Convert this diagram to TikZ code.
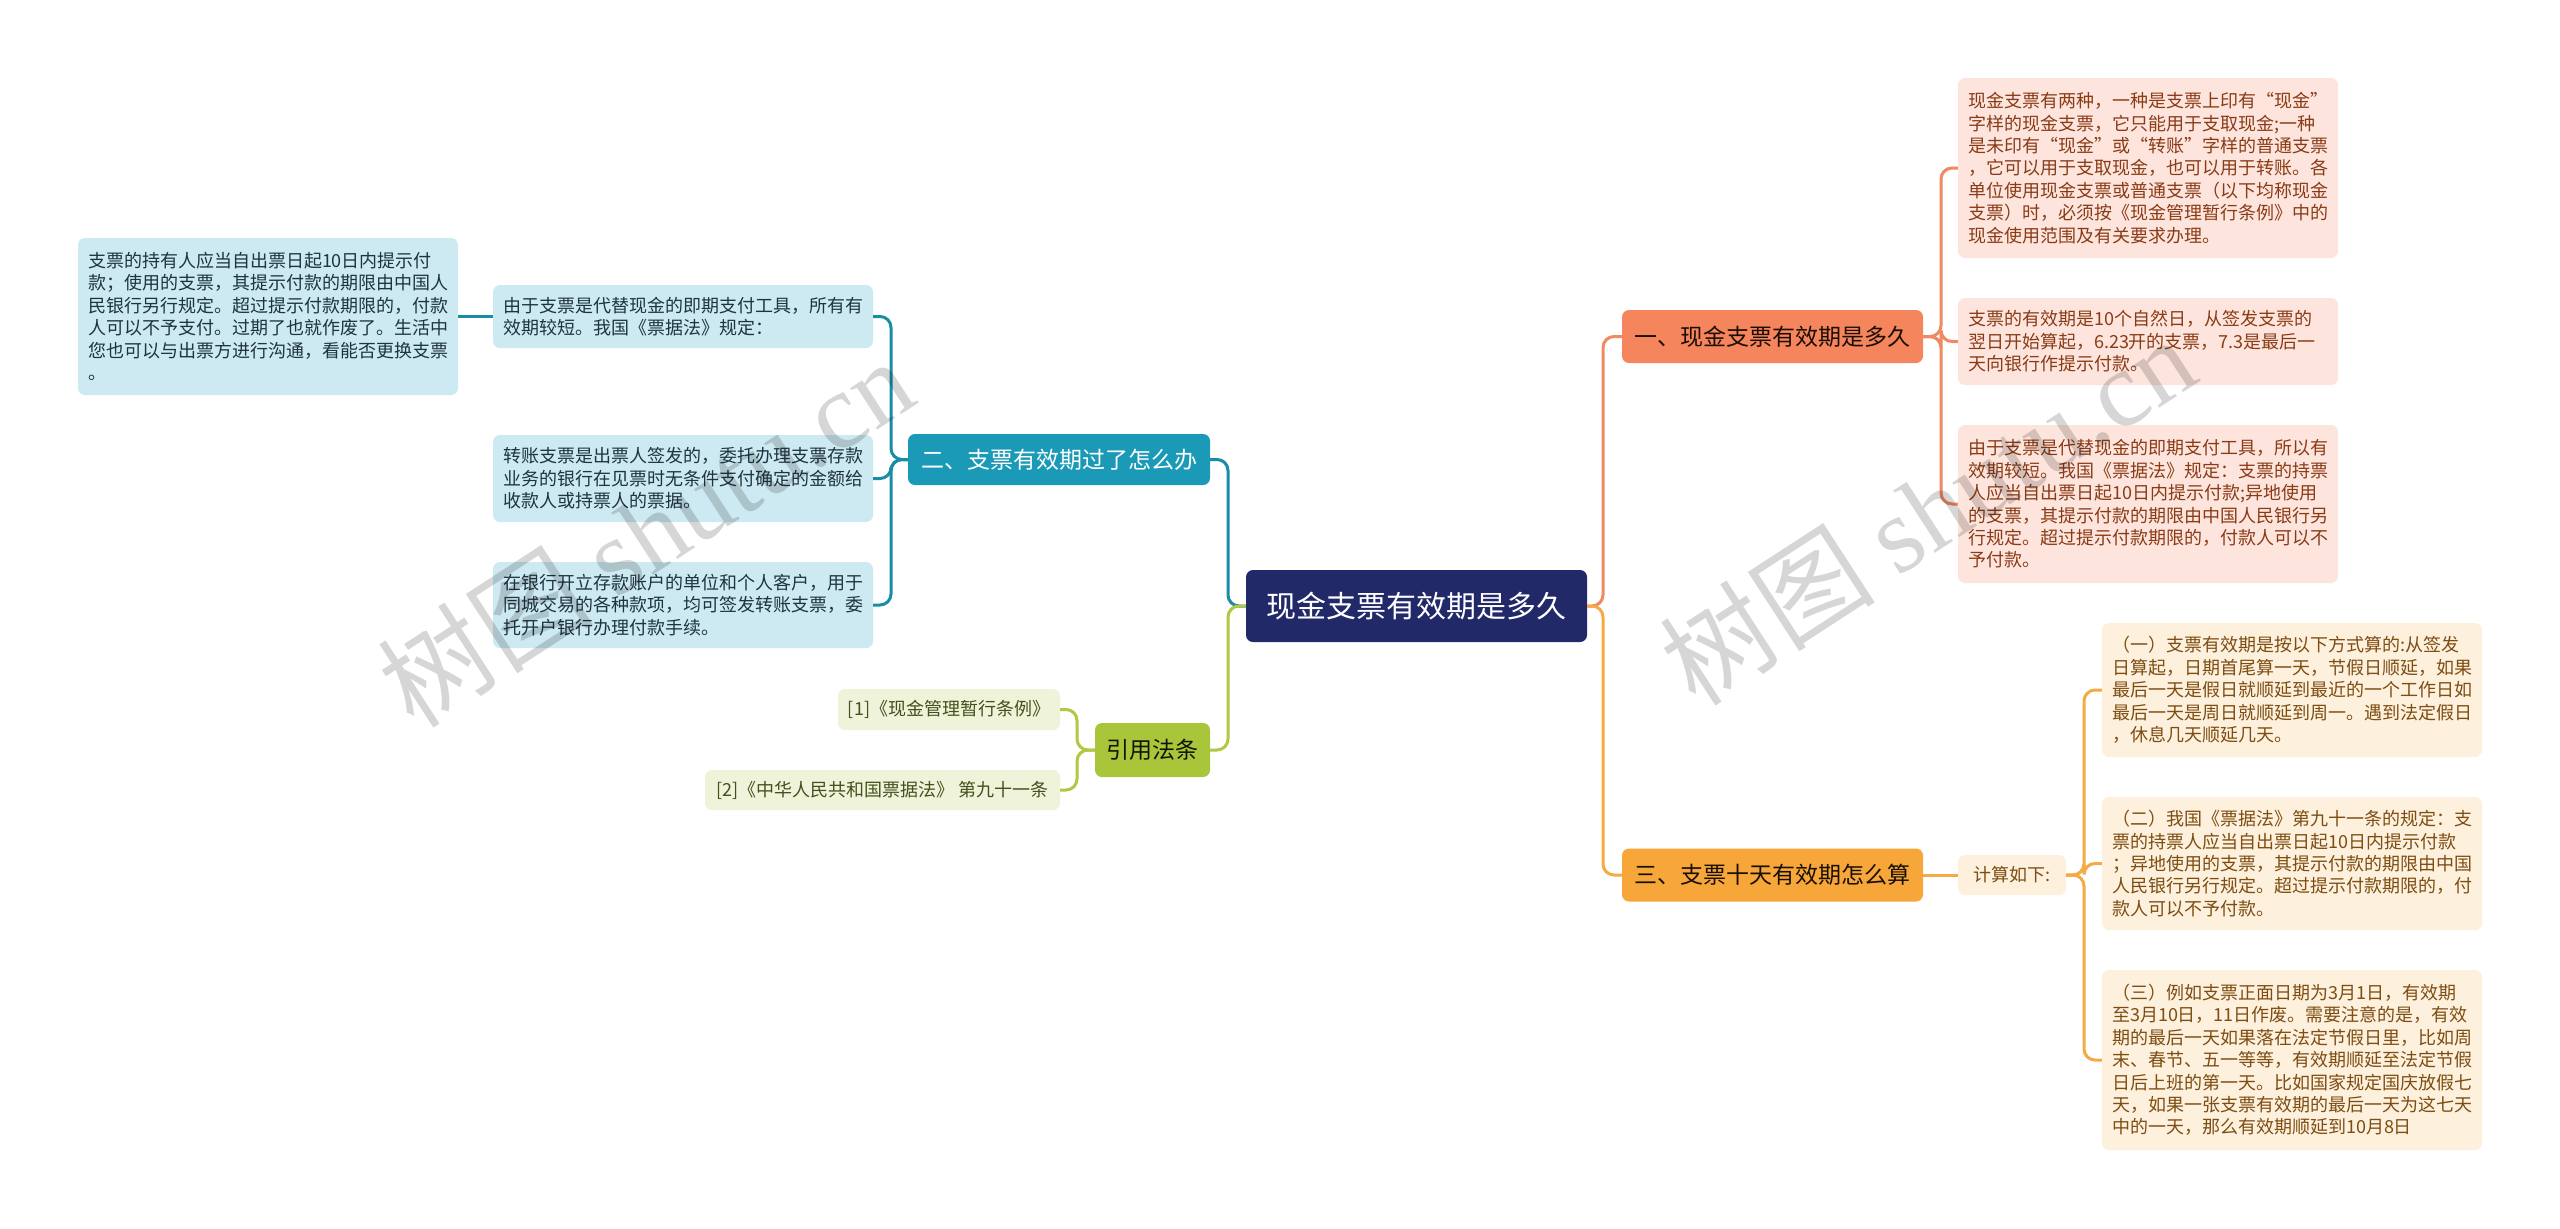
\documentclass[tikz,border=0pt]{standalone}
\usepackage{fontspec}
\setmainfont{Noto Sans CJK SC}
\newfontfamily\wmlatin{Liberation Serif}
\definecolor{cnavy}{HTML}{222968}
\definecolor{corg1}{HTML}{F4855C}
\definecolor{corg1l}{HTML}{EF8A62}
\definecolor{corg1bg}{HTML}{FDE5DD}
\definecolor{corg1tx}{HTML}{8A3B16}
\definecolor{corg3}{HTML}{F7A73A}
\definecolor{corg3l}{HTML}{F5AB45}
\definecolor{corg3bg}{HTML}{FDF0DD}
\definecolor{corg3tx}{HTML}{7D4D12}
\definecolor{cteal}{HTML}{1A9AB6}
\definecolor{ctealln}{HTML}{1A8DA6}
\definecolor{ctealbg}{HTML}{CDE9F1}
\definecolor{ctealtx}{HTML}{1E3440}
\definecolor{cgrn}{HTML}{A9C53A}
\definecolor{cgrnl}{HTML}{B0C842}
\definecolor{cgrnbg}{HTML}{EEF3DA}
\definecolor{cgrntx}{HTML}{44501D}
\begin{document}
\begin{tikzpicture}[x=1pt,y=-1pt,
  txtbox/.style={rounded corners=7pt, inner xsep=10pt, inner ysep=4pt, align=left,
     text width=360pt, font=\fontsize{18}{22.4}\selectfont},
  branch/.style={rounded corners=7pt, inner sep=0pt, align=center,
     minimum width=301pt, minimum height=53pt, font=\fontsize{23}{26}\selectfont},
  small/.style={rounded corners=7pt, inner sep=0pt, align=center,
     minimum height=41pt, font=\fontsize{18}{22}\selectfont},
  conn/.style={line width=3pt, rounded corners=11pt},
  wmark/.style={rotate=33, text=black, opacity=0.16, font=\fontsize{108}{120}\selectfont},
]
\useasboundingbox (0,0) rectangle (2560,1229);
\fill[white] (0,0) rectangle (2560,1229);

% center
\node[fill=cnavy, text=white, rounded corners=7pt, inner sep=0pt,
  minimum width=341pt, minimum height=72pt, font=\fontsize{30}{34}\selectfont]
  (c) at (1416.5,606) {现金支票有效期是多久};

% branches
\node[branch, fill=corg1, text=black!80!corg1tx] (b1) at (1772.5,336.5) {一、现金支票有效期是多久};
\node[branch, fill=corg3, text=black!80!corg3tx] (b3) at (1772.5,875) {三、支票十天有效期怎么算};
\node[branch, fill=cteal, text=white, minimum width=302pt, minimum height=51pt] (b2) at (1059,459.5) {二、支票有效期过了怎么办};
\node[branch, fill=cgrn, text=black!75!cgrntx, minimum width=115pt, minimum height=54pt] (b4) at (1152.5,750) {引用法条};

% branch 1 children
\node[txtbox, fill=corg1bg, text=corg1tx, minimum height=180pt] (r1) at (2148,168) {现金支票有两种，一种是支票上印有“现金”\\字样的现金支票，它只能用于支取现金;一种\\是未印有“现金”或“转账”字样的普通支票\\，它可以用于支取现金，也可以用于转账。各\\单位使用现金支票或普通支票（以下均称现金\\支票）时，必须按《现金管理暂行条例》中的\\现金使用范围及有关要求办理。};
\node[txtbox, fill=corg1bg, text=corg1tx, minimum height=87pt] (r2) at (2148,341.5) {支票的有效期是10个自然日，从签发支票的\\翌日开始算起，6.23开的支票，7.3是最后一\\天向银行作提示付款。};
\node[txtbox, fill=corg1bg, text=corg1tx, minimum height=158pt] (r3) at (2148,504) {由于支票是代替现金的即期支付工具，所以有\\效期较短。我国《票据法》规定：支票的持票\\人应当自出票日起10日内提示付款;异地使用\\的支票，其提示付款的期限由中国人民银行另\\行规定。超过提示付款期限的，付款人可以不\\予付款。};

% branch 3 children
\node[small, fill=corg3bg, text=corg3tx, minimum width=108pt, minimum height=40pt] (k) at (2012,875) {计算如下:};
\node[txtbox, fill=corg3bg, text=corg3tx, minimum height=134pt] (c1) at (2292,690) {（一）支票有效期是按以下方式算的:从签发\\日算起，日期首尾算一天，节假日顺延，如果\\最后一天是假日就顺延到最近的一个工作日如\\最后一天是周日就顺延到周一。遇到法定假日\\，休息几天顺延几天。};
\node[txtbox, fill=corg3bg, text=corg3tx, minimum height=133pt] (c2) at (2292,863.5) {（二）我国《票据法》第九十一条的规定：支\\票的持票人应当自出票日起10日内提示付款\\；异地使用的支票，其提示付款的期限由中国\\人民银行另行规定。超过提示付款期限的，付\\款人可以不予付款。};
\node[txtbox, fill=corg3bg, text=corg3tx, minimum height=180pt] (c3) at (2292,1060) {（三）例如支票正面日期为3月1日，有效期\\至3月10日，11日作废。需要注意的是，有效\\期的最后一天如果落在法定节假日里，比如周\\末、春节、五一等等，有效期顺延至法定节假\\日后上班的第一天。比如国家规定国庆放假七\\天，如果一张支票有效期的最后一天为这七天\\中的一天，那么有效期顺延到10月8日};

% branch 2 children
\node[txtbox, fill=ctealbg, text=ctealtx, minimum height=63pt] (l1) at (683,316.5) {由于支票是代替现金的即期支付工具，所有有\\效期较短。我国《票据法》规定：};
\node[txtbox, fill=ctealbg, text=ctealtx, minimum height=87pt] (l2) at (683,478.5) {转账支票是出票人签发的，委托办理支票存款\\业务的银行在见票时无条件支付确定的金额给\\收款人或持票人的票据。};
\node[txtbox, fill=ctealbg, text=ctealtx, minimum height=86pt] (l3) at (683,605) {在银行开立存款账户的单位和个人客户，用于\\同城交易的各种款项，均可签发转账支票，委\\托开户银行办理付款手续。};
\node[txtbox, fill=ctealbg, text=ctealtx, minimum height=157pt] (ll) at (268,316.5) {支票的持有人应当自出票日起10日内提示付\\款；使用的支票，其提示付款的期限由中国人\\民银行另行规定。超过提示付款期限的，付款\\人可以不予支付。过期了也就作废了。生活中\\您也可以与出票方进行沟通，看能否更换支票\\。};

% references
\node[small, fill=cgrnbg, text=cgrntx, minimum width=222pt] (f1) at (949,709.5) {[1]《现金管理暂行条例》};
\node[small, fill=cgrnbg, text=cgrntx, minimum width=355pt, minimum height=40pt] (f2) at (882.5,790) {[2]《中华人民共和国票据法》 第九十一条};

% connectors
\draw[conn, corg1l] (c.east) -- (1603,606) |- (b1.west);
\draw[conn, corg3l] (c.east) -- (1603,606) |- (b3.west);
\draw[conn, ctealln] (c.west) -- (1228,606) |- (b2.east);
\draw[conn, cgrnl] (c.west) -- (1228,606) |- (b4.east);

\draw[conn, corg1l] (b1.east) -- (1941,336.5) |- (r1.west);
\draw[conn, corg1l] (b1.east) -- (1941,336.5) |- (r2.west);
\draw[conn, corg1l] (b1.east) -- (1941,336.5) |- (r3.west);

\draw[conn, corg3l] (b3.east) -- (k.west);
\draw[conn, corg3l] (k.east) -- (2084,875) |- (c1.west);
\draw[conn, corg3l] (k.east) -- (2084,875) |- (c2.west);
\draw[conn, corg3l] (k.east) -- (2084,875) |- (c3.west);

\draw[conn, ctealln] (b2.west) -- (891,459.5) |- (l1.east);
\draw[conn, ctealln] (b2.west) -- (891,459.5) |- (l2.east);
\draw[conn, ctealln] (b2.west) -- (891,459.5) |- (l3.east);
\draw[conn, ctealln] (l1.west) -- (ll.east);

\draw[conn, cgrnl] (b4.west) -- (1077,750) |- (f1.east);
\draw[conn, cgrnl] (b4.west) -- (1077,750) |- (f2.east);

% watermarks
\node[wmark] (w1) at (645,532) {树图 {\wmlatin shutu.cn}};
\node[wmark] (w2) at (1927,510) {树图 {\wmlatin shutu.cn}};
\end{tikzpicture}
\end{document}
